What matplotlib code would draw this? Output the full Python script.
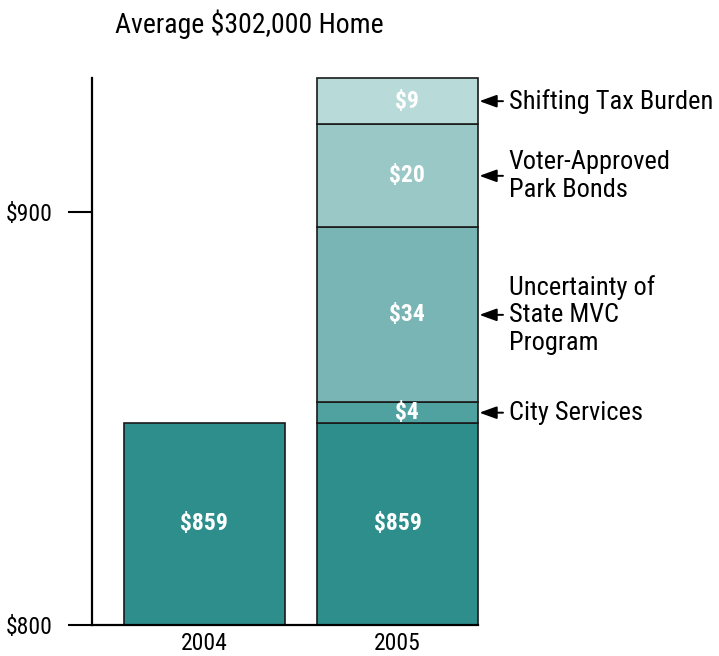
import matplotlib.pyplot as plt
import numpy as np

# data
years = ['2004', '2005']
base = [859, 859]
segments = ['City Services', 'Uncertainty of\nState MVC\nProgram',
            'Voter-Approved\nPark Bonds', 'Shifting Tax Burden']
seg_values = [4, 34, 20, 9]
seg_colors = ['#50a2a1', '#79b5b4', '#9ac8c7', '#b8dad9']
base_color = '#2e8e8c'
y_ticks = [800, 900]
y_ticklabels = ['$800', '$900']

plt.rcParams['font.family'] = ['Roboto Condensed', 'DejaVu Sans']

# compressed scale below the base bar (axis starts at $800)
brk = base[0]
k = 0.665
def fwd(y):
    y = np.asarray(y, dtype=float)
    return np.where(y >= brk, y, brk - (brk - y) * k)
def inv(u):
    u = np.asarray(u, dtype=float)
    return np.where(u >= brk, u, brk - (brk - u) / k)

fig = plt.figure(figsize=(7.19, 6.56), dpi=100)
ax = fig.add_axes([92/719, 31/656, (478-92)/719, (578-31)/656])
ax.set_yscale('function', functions=(fwd, inv))

x = np.arange(len(years))
w = 0.83
edge = dict(edgecolor='#1a1a1a', linewidth=1.2, clip_on=False)
ax.bar(x, np.array(base) - 800, bottom=800, width=w, color=base_color, **edge)
for xi, b in zip(x, base):
    ax.text(xi, brk - (brk - 800) / 2, f'${b}', ha='center', va='center',
            color='white', fontsize=17, fontweight='bold')

bottom = base[1]
for name, v, c in zip(segments, seg_values, seg_colors):
    ax.bar(x[1], v, bottom=bottom, width=w, color=c, **edge)
    mid = bottom + v / 2
    ax.text(x[1] + 0.05, mid, f'${v}', ha='center', va='center',
            color='white', fontsize=17, fontweight='bold')
    ax.annotate(name, xy=(x[1] + w / 2, mid), xytext=(22, 0),
                textcoords='offset points', ha='left', va='center',
                fontsize=19, linespacing=1.18,
                arrowprops=dict(arrowstyle='-|>,head_length=0.55,head_width=0.2',
                                color='black', lw=1.4, shrinkA=2, shrinkB=1),
                annotation_clip=False)
    bottom += v

ax.set_xlim(-0.58, 1 + w / 2)
ax.set_ylim(800, bottom)
ax.set_yticks(y_ticks)
ax.set_yticklabels(y_ticklabels, fontsize=17)
ax.set_xticks(x)
ax.set_xticklabels(years, fontsize=17)
ax.tick_params(axis='y', direction='out', length=17, width=1.5, pad=11)
ax.tick_params(axis='x', length=0, pad=5)
ax.minorticks_off()
for s in ['top', 'right']:
    ax.spines[s].set_visible(False)
for s in ['left', 'bottom']:
    ax.spines[s].set_linewidth(1.6)

fig.text(115/719, 1 - 24/656, 'Average $302,000 Home', ha='left', va='center', fontsize=20)

fig.savefig('out.png', dpi=100)
